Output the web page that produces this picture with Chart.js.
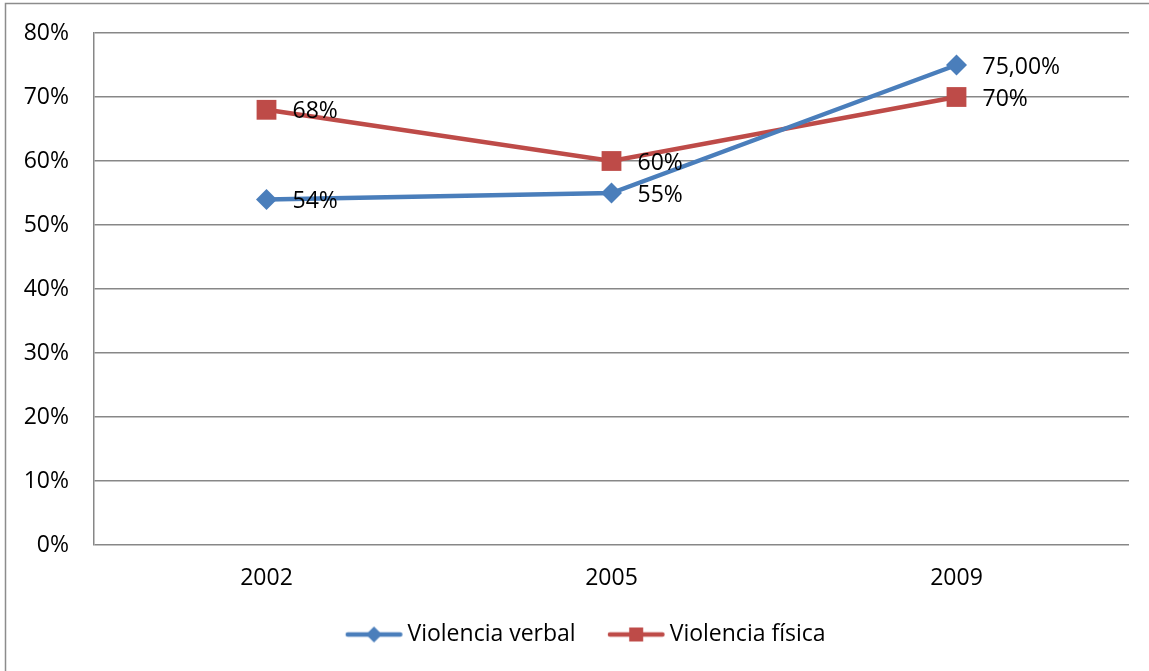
<!DOCTYPE html>
<html>
<head>
<meta charset="utf-8">
<script src="https://cdn.jsdelivr.net/npm/chart.js@4/dist/chart.umd.min.js"></script>
<style>
  html, body { margin: 0; padding: 0; background: #fff; }
  #wrap { position: absolute; left: 0; top: 0; width: 1149px; height: 671px; }
</style>
</head>
<body>
<div id="wrap"><canvas id="myChart" width="1149" height="671"></canvas></div>
<script>
const years = ["2002", "2005", "2009"];
const verbal = [54, 55, 75];
const verbalDecimals = [0, 0, 2];
const fisica = [68, 60, 70];
const fisicaDecimals = [0, 0, 0];
const yTicks = [0, 10, 20, 30, 40, 50, 60, 70, 80];

const blue = "#4A7EBB";
const red = "#BE4B48";
const gridGray = "#878787";
const fontFamily = "'Open Sans', sans-serif";
const fontSize = 23;

const fmt = (v, d) => v.toFixed(d).replace(".", ",") + "%";

// legend symbols: a line with the marker in the middle
function legendSymbol(color, shape) {
	const c = document.createElement("canvas");
	c.width = 90;
	c.height = 20;
	const g = c.getContext("2d");
	g.strokeStyle = color;
	g.lineWidth = 4.5;
	g.lineCap = "round";
	g.beginPath();
	g.moveTo(32, 10);
	g.lineTo(84.5, 10);
	g.stroke();
	g.fillStyle = color;
	g.beginPath();
	if (shape === "diamond") {
		g.moveTo(58.25, 2);
		g.lineTo(66.25, 10);
		g.lineTo(58.25, 18);
		g.lineTo(50.25, 10);
		g.closePath();
	} else {
		g.rect(51.25, 3, 14, 14);
	}
	g.fill();
	return c;
}

// grey frame, only its left and top edges fall inside the canvas
const frame = {
	id: "frame",
	beforeDraw(chart) {
		const ctx = chart.ctx;
		ctx.save();
		ctx.strokeStyle = "#8c8c8c";
		ctx.lineWidth = 1.5;
		ctx.strokeRect(5.5, 3.5, 2000, 2000);
		ctx.restore();
	},
};

const valueLabels = {
	id: "valueLabels",
	afterDatasetsDraw(chart) {
		const ctx = chart.ctx;
		ctx.save();
		ctx.font = fontSize + "px " + fontFamily;
		ctx.fillStyle = "#000";
		ctx.textAlign = "left";
		ctx.textBaseline = "middle";
		chart.data.datasets.forEach((ds, i) => {
			const meta = chart.getDatasetMeta(i);
			meta.data.forEach((pt, j) => {
				ctx.fillText(fmt(ds.data[j], ds.decimals[j]), pt.x + 26, pt.y + 2);
			});
		});
		ctx.restore();
	},
};

const ctx = document.getElementById("myChart");

const myChart = new Chart(ctx, {
	type: "line",
	data: {
		labels: years,
		datasets: [
			{
				label: "Violencia verbal",
				data: verbal,
				decimals: verbalDecimals,
				borderColor: blue,
				backgroundColor: blue,
				borderWidth: 4.5,
				pointStyle: "rectRot",
				pointRadius: 10.5,
				pointHoverRadius: 10.5,
				pointBorderWidth: 0,
				tension: 0,
			},
			{
				label: "Violencia física",
				data: fisica,
				decimals: fisicaDecimals,
				borderColor: red,
				backgroundColor: red,
				borderWidth: 4.5,
				pointStyle: "rect",
				pointRadius: 14,
				pointHoverRadius: 14,
				pointBorderWidth: 0,
				tension: 0,
			},
		],
	},
	options: {
		responsive: false,
		animation: false,
		layout: {
			padding: { left: 12, right: 10, top: 33, bottom: 15 },
		},
		scales: {
			x: {
				offset: true,
				grid: { display: false, drawTicks: false },
				border: { display: false },
				ticks: {
					color: "#000",
					padding: 19.2,
					font: { family: fontFamily, size: fontSize },
				},
			},
			y: {
				min: 0,
				max: 80,
				afterBuildTicks(scale) {
					scale.ticks = yTicks.map((v) => ({ value: v }));
				},
				afterFit(scale) {
					scale.width = 82;
				},
				grid: { color: gridGray, lineWidth: 1.5, tickLength: 20, tickColor: "rgba(0,0,0,0)" },
				border: { display: true, color: gridGray, width: 1.5 },
				ticks: {
					color: "#000",
					padding: 5,
					font: { family: fontFamily, size: fontSize },
					callback: (v) => v + "%",
				},
			},
			// empty strip on the right so the plot ends before the frame
			yRight: {
				type: "linear",
				position: "right",
				grid: { display: false },
				border: { display: false },
				ticks: { display: false },
				afterFit(scale) {
					scale.width = 10;
				},
			},
		},
		plugins: {
			tooltip: { enabled: false },
			legend: {
				position: "bottom",
				labels: {
					color: "#000",
					font: { family: fontFamily, size: fontSize },
					usePointStyle: true,
					pointStyleWidth: 70.5,
					padding: 12,
					generateLabels: (chart) =>
						chart.data.datasets.map((ds, i) => ({
							text: ds.label,
							fontColor: "#000",
							pointStyle: legendSymbol(ds.borderColor, i === 0 ? "diamond" : "square"),
							datasetIndex: i,
							lineWidth: 0,
						})),
				},
			},
		},
	},
	plugins: [frame, valueLabels],
});
</script>
</body>
</html>
